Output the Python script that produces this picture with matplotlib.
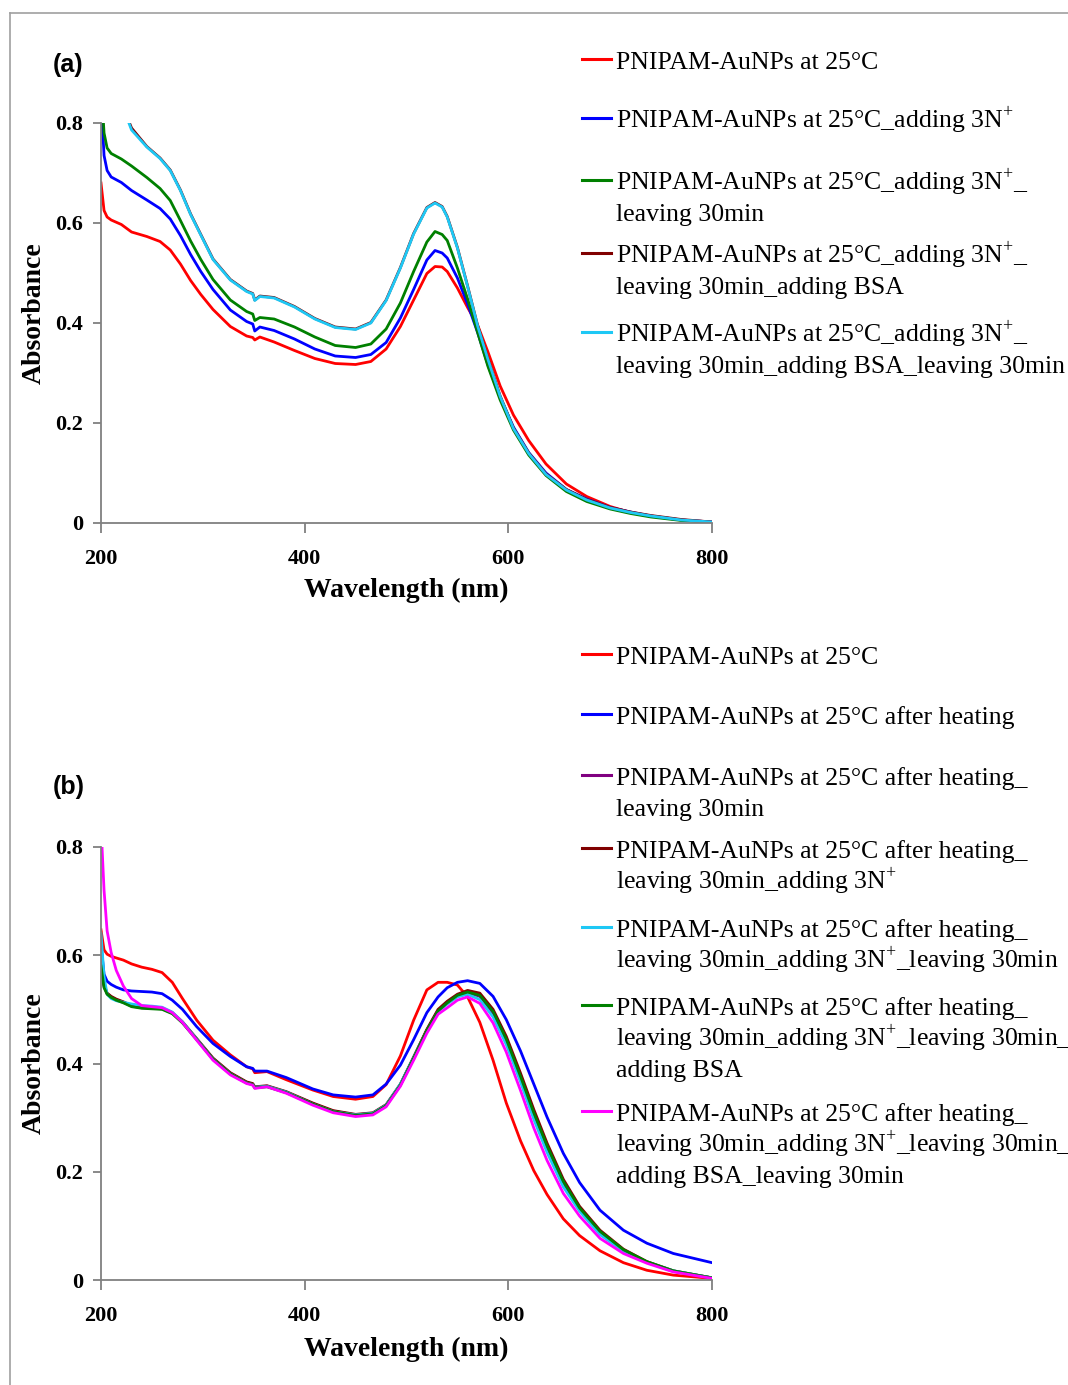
import matplotlib
matplotlib.use("Agg")
import matplotlib.pyplot as plt
from matplotlib.lines import Line2D

plt.rcParams['font.family'] = ['Liberation Serif', 'DejaVu Serif']
plt.rcParams['mathtext.fontset'] = 'custom'
plt.rcParams['mathtext.rm'] = 'Liberation Serif'

# ---- panel (a) spectra ----
wl_a = [200, 203, 206, 210, 220, 230, 245, 258, 268, 278, 288, 298, 310, 327, 343, 349, 351, 356,
        370, 390, 410, 430, 450, 465, 480, 494, 507, 520, 528, 535, 540, 550, 560, 570, 580, 592,
        605, 620, 637, 657, 677, 700, 720, 740, 770, 800]
red_a = [0.680, 0.625, 0.612, 0.606, 0.597, 0.582, 0.573, 0.563, 0.546, 0.518, 0.485, 0.457, 0.427,
         0.393, 0.374, 0.371, 0.366, 0.372, 0.362, 0.345, 0.329, 0.319, 0.317, 0.323, 0.348, 0.393,
         0.446, 0.499, 0.513, 0.512, 0.503, 0.470, 0.431, 0.395, 0.342, 0.274, 0.216, 0.165, 0.118,
         0.078, 0.053, 0.033, 0.021, 0.014, 0.006, 0.002]
blue_a = [0.850, 0.735, 0.705, 0.692, 0.681, 0.665, 0.646, 0.629, 0.608, 0.575, 0.537, 0.503, 0.467,
          0.426, 0.403, 0.398, 0.384, 0.392, 0.385, 0.368, 0.348, 0.334, 0.331, 0.337, 0.361, 0.410,
          0.467, 0.526, 0.545, 0.540, 0.530, 0.490, 0.438, 0.380, 0.316, 0.251, 0.192, 0.141, 0.100,
          0.067, 0.048, 0.031, 0.022, 0.014, 0.006, 0.002]
green_a = [0.880, 0.780, 0.750, 0.739, 0.728, 0.714, 0.691, 0.669, 0.645, 0.605, 0.564, 0.527, 0.487,
           0.446, 0.423, 0.418, 0.405, 0.411, 0.408, 0.392, 0.372, 0.355, 0.351, 0.358, 0.388, 0.440,
           0.503, 0.562, 0.583, 0.577, 0.565, 0.510, 0.448, 0.380, 0.313, 0.246, 0.186, 0.136, 0.095,
           0.063, 0.043, 0.028, 0.019, 0.012, 0.005, 0.001]
darkred_a = [1.000, 0.970, 0.940, 0.910, 0.840, 0.790, 0.753, 0.730, 0.706, 0.666, 0.618, 0.577, 0.528,
             0.487, 0.464, 0.459, 0.446, 0.454, 0.451, 0.433, 0.409, 0.392, 0.388, 0.401, 0.446, 0.511,
             0.579, 0.631, 0.641, 0.633, 0.613, 0.551, 0.474, 0.394, 0.328, 0.254, 0.190, 0.140, 0.098,
             0.067, 0.047, 0.031, 0.022, 0.015, 0.007, 0.002]
cyan_a = [1.000, 0.970, 0.940, 0.910, 0.840, 0.786, 0.752, 0.729, 0.705, 0.665, 0.617, 0.576, 0.527,
          0.486, 0.463, 0.458, 0.445, 0.453, 0.450, 0.432, 0.408, 0.391, 0.387, 0.400, 0.445, 0.510,
          0.578, 0.630, 0.640, 0.632, 0.612, 0.550, 0.473, 0.393, 0.327, 0.253, 0.189, 0.139, 0.097,
          0.066, 0.046, 0.030, 0.021, 0.014, 0.006, 0.002]

# ---- panel (b) spectra ----
wl_b = [200, 203, 206, 210, 215, 222, 230, 240, 250, 260, 270, 280, 294, 310, 327, 343, 349, 351,
        363, 382, 408, 428, 450, 467, 480, 494, 507, 520, 531, 540, 550, 560, 572, 585, 598, 612,
        625, 638, 654, 670, 690, 713, 736, 762, 800]
red_b = [0.647, 0.610, 0.602, 0.598, 0.595, 0.591, 0.584, 0.578, 0.574, 0.568, 0.550, 0.520, 0.480,
         0.443, 0.416, 0.394, 0.390, 0.383, 0.385, 0.370, 0.351, 0.339, 0.334, 0.339, 0.361, 0.414,
         0.480, 0.536, 0.550, 0.550, 0.545, 0.523, 0.476, 0.406, 0.327, 0.257, 0.202, 0.158, 0.113,
         0.082, 0.054, 0.032, 0.018, 0.009, 0.003]
blue_b = [0.620, 0.565, 0.552, 0.546, 0.541, 0.536, 0.534, 0.533, 0.532, 0.529, 0.517, 0.500, 0.468,
          0.437, 0.413, 0.394, 0.391, 0.386, 0.386, 0.374, 0.353, 0.342, 0.338, 0.342, 0.362, 0.397,
          0.444, 0.494, 0.523, 0.540, 0.550, 0.553, 0.548, 0.524, 0.481, 0.423, 0.362, 0.301, 0.234,
          0.180, 0.129, 0.092, 0.068, 0.049, 0.032]
purple_b = [0.590, 0.542, 0.529, 0.523, 0.518, 0.513, 0.506, 0.503, 0.502, 0.501, 0.493, 0.476, 0.445,
            0.409, 0.382, 0.365, 0.362, 0.356, 0.358, 0.347, 0.326, 0.312, 0.305, 0.308, 0.323, 0.361,
            0.411, 0.462, 0.498, 0.512, 0.525, 0.531, 0.524, 0.493, 0.441, 0.372, 0.305, 0.244, 0.178,
            0.131, 0.088, 0.055, 0.033, 0.016, 0.004]
darkred_b = [0.600, 0.545, 0.530, 0.524, 0.519, 0.514, 0.507, 0.504, 0.503, 0.502, 0.494, 0.477, 0.446,
             0.410, 0.383, 0.366, 0.363, 0.357, 0.359, 0.348, 0.327, 0.313, 0.306, 0.309, 0.324, 0.362,
             0.412, 0.463, 0.500, 0.515, 0.528, 0.535, 0.530, 0.500, 0.450, 0.382, 0.315, 0.253, 0.186,
             0.136, 0.092, 0.057, 0.034, 0.017, 0.004]
cyan_b = [0.640, 0.560, 0.528, 0.520, 0.516, 0.513, 0.510, 0.507, 0.506, 0.504, 0.495, 0.477, 0.445,
          0.408, 0.381, 0.364, 0.361, 0.356, 0.358, 0.347, 0.325, 0.311, 0.305, 0.308, 0.323, 0.362,
          0.411, 0.460, 0.496, 0.510, 0.523, 0.528, 0.518, 0.486, 0.435, 0.366, 0.297, 0.236, 0.172,
          0.127, 0.084, 0.053, 0.033, 0.017, 0.004]
green_b = [0.580, 0.540, 0.528, 0.522, 0.517, 0.512, 0.505, 0.502, 0.501, 0.500, 0.492, 0.475, 0.444,
           0.408, 0.381, 0.364, 0.361, 0.355, 0.357, 0.346, 0.325, 0.311, 0.304, 0.307, 0.322, 0.360,
           0.410, 0.461, 0.497, 0.512, 0.526, 0.532, 0.526, 0.496, 0.445, 0.376, 0.309, 0.248, 0.182,
           0.133, 0.090, 0.056, 0.034, 0.017, 0.004]
magenta_b = [0.840, 0.720, 0.645, 0.605, 0.572, 0.543, 0.520, 0.507, 0.505, 0.503, 0.494, 0.476, 0.443,
             0.406, 0.379, 0.363, 0.360, 0.354, 0.357, 0.345, 0.323, 0.309, 0.302, 0.305, 0.320, 0.358,
             0.406, 0.456, 0.491, 0.503, 0.517, 0.523, 0.511, 0.475, 0.421, 0.350, 0.281, 0.221, 0.160,
             0.118, 0.077, 0.049, 0.031, 0.015, 0.003]

p = '3N$^{\\mathrm{+}}$'
labels_a = ['PNIPAM-AuNPs at 25°C',
            'PNIPAM-AuNPs at 25°C_adding ' + p,
            'PNIPAM-AuNPs at 25°C_adding ' + p + '_\nleaving 30min',
            'PNIPAM-AuNPs at 25°C_adding ' + p + '_\nleaving 30min_adding BSA',
            'PNIPAM-AuNPs at 25°C_adding ' + p + '_\nleaving 30min_adding BSA_leaving 30min']
labels_b = ['PNIPAM-AuNPs at 25°C',
            'PNIPAM-AuNPs at 25°C after heating',
            'PNIPAM-AuNPs at 25°C after heating_\nleaving 30min',
            'PNIPAM-AuNPs at 25°C after heating_\nleaving 30min_adding ' + p,
            'PNIPAM-AuNPs at 25°C after heating_\nleaving 30min_adding ' + p + '_leaving 30min',
            'PNIPAM-AuNPs at 25°C after heating_\nleaving 30min_adding ' + p + '_leaving 30min_\nadding BSA',
            'PNIPAM-AuNPs at 25°C after heating_\nleaving 30min_adding ' + p + '_leaving 30min_\nadding BSA_leaving 30min']

colors_a = ['#FF0000', '#0000FF', '#008000', '#800000', '#1EC8F5']
colors_b = ['#FF0000', '#0000FF', '#800080', '#800000', '#1EC8F5', '#008000', '#FF00FF']

series_a = [red_a, blue_a, green_a, darkred_a, cyan_a]
series_b = [red_b, blue_b, purple_b, darkred_b, cyan_b, green_b, magenta_b]

W, H = 1068, 1385
fig = plt.figure(figsize=(W / 100, H / 100), dpi=100)

# outer frame
fig.add_artist(Line2D([10 / W, 1], [1 - 13 / H, 1 - 13 / H], transform=fig.transFigure, color='#A0A0A0', lw=1.2))
fig.add_artist(Line2D([10 / W, 10 / W], [0, 1 - 13 / H], transform=fig.transFigure, color='#A0A0A0', lw=1.2))


def make_axes(top_px, bottom_px):
    ax = fig.add_axes([101 / W, 1 - bottom_px / H, 611 / W, (bottom_px - top_px) / H])
    ax.set_xlim(200, 800)
    ax.set_ylim(0, 0.8)
    ax.set_xticks([200, 400, 600, 800])
    ax.set_yticks([0, 0.2, 0.4, 0.6, 0.8])
    ax.set_yticklabels(['0', '0.2', '0.4', '0.6', '0.8'])
    for s in ['top', 'right']:
        ax.spines[s].set_visible(False)
    for s in ['left', 'bottom']:
        ax.spines[s].set_color('#808080')
        ax.spines[s].set_linewidth(1.3)
    ax.tick_params(axis='y', direction='out', length=6, width=1.3, color='#808080', pad=7)
    ax.tick_params(axis='x', direction='out', length=7, width=1.3, color='#808080', pad=12)
    for t in ax.get_xticklabels() + ax.get_yticklabels():
        t.set_fontsize(16)
        t.set_fontweight('bold')
    ax.set_xlabel('Wavelength (nm)', fontsize=20, fontweight='bold')
    ax.set_ylabel('Absorbance', fontsize=20, fontweight='bold')
    return ax


def draw_legend(labels, colors, ys):
    # one text per line so every row keeps the same 31 px pitch
    for lab, c, y in zip(labels, colors, ys):
        yf = 1 - y / H
        fig.add_artist(Line2D([582 / W, 611 / W], [yf, yf], transform=fig.transFigure, color=c, lw=2.2))
        for k, line in enumerate(lab.split('\n')):
            fig.text(616 / W, 1 - (y + 10 + 31 * k) / H, line, fontsize=18.5, va='baseline', ha='left')


ax1 = make_axes(123, 523)
for vals, c in zip(series_a, colors_a):
    ax1.plot(wl_a, vals, color=c, lw=2.0)
ax1.xaxis.set_label_coords(0.5, -0.1375)
ax1.yaxis.set_label_coords(-0.088, 0.525)
draw_legend(labels_a, colors_a, [59, 118, 180, 253, 332])
fig.text(53 / W, 1 - 65 / H, '(a)', family='Liberation Sans', fontweight='bold', fontsize=18, va='center')

ax2 = make_axes(847, 1280)
for vals, c in zip(series_b, colors_b):
    ax2.plot(wl_b, vals, color=c, lw=2.0)
ax2.xaxis.set_label_coords(0.5, -0.132)
ax2.yaxis.set_label_coords(-0.088, 0.5)
draw_legend(labels_b, colors_b, [654, 714, 775, 848, 927, 1005, 1111])
fig.text(53 / W, 1 - 787 / H, '(b)', family='Liberation Sans', fontweight='bold', fontsize=18, va='center')

fig.savefig('out.png', dpi=100)
